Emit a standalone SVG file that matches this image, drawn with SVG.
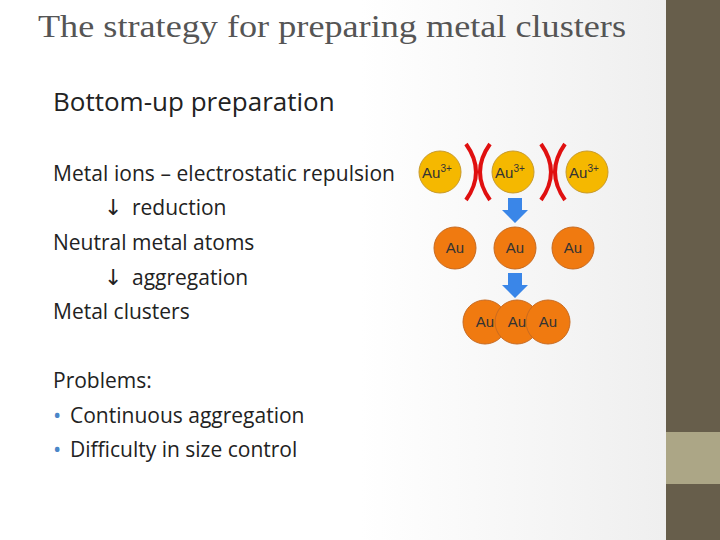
<svg xmlns="http://www.w3.org/2000/svg" width="720" height="540" viewBox="0 0 720 540">
<defs>
<linearGradient id="bg" x1="0" y1="0" x2="1" y2="0"><stop offset="0.5" stop-color="#ffffff"/><stop offset="1" stop-color="#ececec"/></linearGradient>
<style>
.t{font-family:"Open Sans","Liberation Sans",sans-serif;fill:#222}
.ion{fill:#f5b800;stroke:#c89a2a;stroke-width:1}
.atom{fill:#f07a10;stroke:#c86a20;stroke-width:1}
.lbl{font-family:"Liberation Sans",sans-serif;font-size:15px;fill:#333;text-anchor:middle}
.x{fill:none;stroke:#e01010;stroke-width:4}
.arr{fill:#3a86e8}
.da{font-family:"DejaVu Sans",sans-serif;fill:#222;font-size:22px}
</style>
</defs>
<rect width="720" height="540" fill="url(#bg)"/>
<rect x="666" y="0" width="54" height="540" fill="#675e4b"/>
<rect x="666" y="432" width="54" height="52" fill="#aca686"/>
<text x="38" y="37" font-family="Liberation Serif,serif" font-size="32" fill="#555" textLength="588" lengthAdjust="spacingAndGlyphs">The strategy for preparing metal clusters</text>
<text class="t" x="53" y="111" font-size="26">Bottom-up preparation</text>
<g font-size="21">
<text class="t" x="53" y="181" textLength="342">Metal ions – electrostatic repulsion</text>
<text class="da" x="104" y="215">↓</text><text class="t" x="132" y="215">reduction</text>
<text class="t" x="53" y="250">Neutral metal atoms</text>
<text class="da" x="104" y="285">↓</text><text class="t" x="132" y="285">aggregation</text>
<text class="t" x="53" y="319">Metal clusters</text>
<text class="t" x="53" y="388">Problems:</text>
<text class="t" x="53" y="423" fill="#4a86c8" style="fill:#4a86c8" font-size="22">•</text><text class="t" x="70" y="423">Continuous aggregation</text>
<text class="t" x="53" y="457" style="fill:#4a86c8" font-size="22">•</text><text class="t" x="70" y="457">Difficulty in size control</text>
</g>
<g id="connectors">
<path class="x" d="M466,144 Q486,172 466,200 M490,144 Q470,172 490,200"/>
<path class="x" d="M541,144 Q561,172 541,200 M565,144 Q545,172 565,200"/>
<path class="arr" d="M508,198 H522 V210 H528 L515,223 L502,210 H508 Z"/>
<path class="arr" d="M508,273 H522 V285 H528 L515,298 L502,285 H508 Z"/>
</g>
<g id="ion1"><circle class="ion" cx="440" cy="172" r="21"/><text class="lbl" x="437" y="178">Au<tspan font-size="10" dy="-6">3+</tspan></text></g>
<g id="ion2"><circle class="ion" cx="513" cy="172" r="21"/><text class="lbl" x="510" y="178">Au<tspan font-size="10" dy="-6">3+</tspan></text></g>
<g id="ion3"><circle class="ion" cx="587" cy="172" r="21"/><text class="lbl" x="584" y="178">Au<tspan font-size="10" dy="-6">3+</tspan></text></g>
<g id="atom1"><circle class="atom" cx="455" cy="248" r="21"/><text class="lbl" x="455" y="253">Au</text></g>
<g id="atom2"><circle class="atom" cx="515" cy="248" r="21"/><text class="lbl" x="515" y="253">Au</text></g>
<g id="atom3"><circle class="atom" cx="573" cy="248" r="21"/><text class="lbl" x="573" y="253">Au</text></g>
<g id="cluster"><circle class="atom" cx="485" cy="322" r="22"/><circle class="atom" cx="517" cy="322" r="22"/><circle class="atom" cx="548" cy="322" r="22"/>
<text class="lbl" x="485" y="327">Au</text><text class="lbl" x="517" y="327">Au</text><text class="lbl" x="548" y="327">Au</text></g>
</svg>
